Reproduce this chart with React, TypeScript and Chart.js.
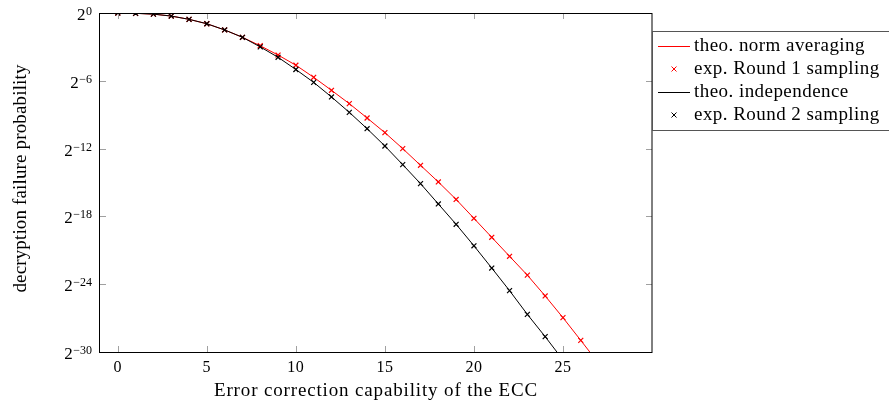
import React, { useEffect, useRef } from 'react';
import { Chart, registerables } from 'chart.js';

Chart.register(...registerables);

// ---- data (y values are log2 of the decryption failure probability) ----
const eccCapability = [0, 1, 2, 3, 4, 5, 6, 7, 8, 9, 10, 11, 12, 13, 14, 15, 16, 17, 18, 19, 20, 21, 22, 23, 24, 25, 26, 27];

const theoNormAveraging = [0, -0.03, -0.1, -0.27, -0.56, -0.95, -1.5, -2.15, -2.9, -3.72, -4.62, -5.69, -6.84, -8.02, -9.29, -10.59, -12.0, -13.48, -14.95, -16.5, -18.17, -19.85, -21.53, -23.2, -25.04, -26.96, -28.97, -31.0];
const expRound1 = [0, -0.03, -0.1, -0.27, -0.56, -0.95, -1.5, -2.15, -2.9, -3.72, -4.62, -5.69, -6.84, -8.02, -9.29, -10.59, -12.0, -13.48, -14.95, -16.5, -18.17, -19.85, -21.53, -23.2, -25.04, -26.96, -28.97];

const theoIndependence = [0, -0.03, -0.1, -0.27, -0.56, -0.95, -1.5, -2.15, -3.0, -3.92, -5.0, -6.14, -7.43, -8.79, -10.24, -11.77, -13.42, -15.1, -16.9, -18.7, -20.6, -22.57, -24.57, -26.67, -28.64, -30.7];
const expRound2 = [0, -0.03, -0.1, -0.27, -0.56, -0.95, -1.5, -2.15, -3.0, -3.92, -5.0, -6.14, -7.43, -8.79, -10.24, -11.77, -13.42, -15.1, -16.9, -18.7, -20.6, -22.57, -24.57, -26.67, -28.64];

const xTickValues = [0, 5, 10, 15, 20, 25];
const yTickExponents = [0, -6, -12, -18, -24, -30];

const seriesLabels = ['theo. norm averaging', 'exp. Round 1 sampling', 'theo. independence', 'exp. Round 2 sampling'];
const xTitle = 'Error correction capability of the ECC';
const yTitle = 'decryption failure probability';

const SERIF = '"Liberation Serif", "DejaVu Serif", serif';

const toPoints = (ys: number[]) => ys.map((y, i) => ({ x: eccCapability[i], y }));

const expLabel = (e: number) => (e < 0 ? '\u2212' + String(-e) : String(e));

const pgfPlugin = {
  id: 'pgfDecor',
  afterDatasetsDraw(chart: any) {
    const { ctx, chartArea: a, scales } = chart;
    const xs = scales.x;
    const ys = scales.y;
    const L = Math.round(a.left);
    const R = Math.round(a.right);
    const T = Math.round(a.top);
    const B = Math.round(a.bottom);
    ctx.save();

    // inner ticks (gray)
    ctx.strokeStyle = '#a0a0a0';
    ctx.lineWidth = 1;
    ctx.beginPath();
    xTickValues.forEach((v) => {
      const px = Math.round(xs.getPixelForValue(v)) + 0.5;
      ctx.moveTo(px, B);
      ctx.lineTo(px, B - 6);
      ctx.moveTo(px, T);
      ctx.lineTo(px, T + 6);
    });
    yTickExponents.forEach((v) => {
      const py = Math.round(ys.getPixelForValue(v)) + 0.5;
      ctx.moveTo(L, py);
      ctx.lineTo(L + 6, py);
      ctx.moveTo(R, py);
      ctx.lineTo(R - 6, py);
    });
    ctx.stroke();

    // frame
    ctx.strokeStyle = '#000';
    ctx.lineWidth = 1;
    ctx.strokeRect(L - 0.5, T + 0.5, R - L + 0.5, B - T);

    ctx.fillStyle = '#000';
    // x tick labels
    ctx.font = `16px ${SERIF}`;
    ctx.textAlign = 'center';
    ctx.textBaseline = 'alphabetic';
    (ctx as any).letterSpacing = '0.5px';
    xTickValues.forEach((v) => {
      ctx.fillText(String(v), xs.getPixelForValue(v), B + 20);
    });
    (ctx as any).letterSpacing = '0px';

    // y tick labels 2^e
    yTickExponents.forEach((e) => {
      const py = ys.getPixelForValue(e);
      const right = L - 8;
      ctx.textAlign = 'right';
      ctx.font = `12px ${SERIF}`;
      const es = expLabel(e);
      const ew = ctx.measureText(es).width;
      ctx.fillText(es, right, py + 2);
      ctx.font = `17px ${SERIF}`;
      ctx.fillText('2', right - ew - 0.5, py + 7);
    });

    // axis titles
    ctx.font = `19px ${SERIF}`;
    ctx.textAlign = 'center';
    (ctx as any).letterSpacing = '0.85px';
    ctx.fillText(xTitle, (a.left + a.right) / 2, B + 44);
    (ctx as any).letterSpacing = '0.15px';
    ctx.save();
    ctx.translate(26, (a.top + a.bottom) / 2 - 4);
    ctx.rotate(-Math.PI / 2);
    ctx.fillText(yTitle, 0, 0);
    ctx.restore();

    // legend box
    const boxTop = T + 18;
    ctx.strokeStyle = '#555';
    ctx.lineWidth = 1;
    ctx.strokeRect(R + 0.5, boxTop + 0.5, 400, 99);
    const colors = ['#ff0000', '#ff0000', '#000000', '#000000'];
    const isLine = [true, false, true, false];
    seriesLabels.forEach((lab, i) => {
      const cy = boxTop + 15 + i * 23;
      ctx.strokeStyle = colors[i];
      ctx.lineWidth = 1;
      ctx.beginPath();
      if (isLine[i]) {
        ctx.moveTo(R + 6, cy + 0.5);
        ctx.lineTo(R + 38, cy + 0.5);
      } else {
        const cx = R + 22;
        const s = 2.5;
        ctx.moveTo(cx - s, cy - s);
        ctx.lineTo(cx + s, cy + s);
        ctx.moveTo(cx - s, cy + s);
        ctx.lineTo(cx + s, cy - s);
      }
      ctx.stroke();
      ctx.fillStyle = '#000';
      ctx.font = `19px ${SERIF}`;
      ctx.textAlign = 'left';
      (ctx as any).letterSpacing = '0.45px';
      ctx.fillText(lab, R + 42, cy + 5);
      (ctx as any).letterSpacing = '0px';
    });

    ctx.restore();
  },
};

export default function App() {
  const ref = useRef<HTMLCanvasElement | null>(null);

  useEffect(() => {
    document.body.style.margin = '0';
    const canvas = ref.current;
    if (!canvas) return;
    const chart = new Chart(canvas, {
      type: 'scatter',
      data: {
        datasets: [
          {
            label: seriesLabels[0],
            data: toPoints(theoNormAveraging),
            showLine: true,
            borderColor: '#ff0000',
            backgroundColor: '#ff0000',
            borderWidth: 1,
            pointRadius: 0,
            order: 4,
          },
          {
            label: seriesLabels[1],
            data: toPoints(expRound1),
            showLine: false,
            pointStyle: 'crossRot',
            pointRadius: 3.5,
            pointBorderWidth: 1.2,
            pointBorderColor: '#ff0000',
            borderColor: '#ff0000',
            backgroundColor: '#ff0000',
            order: 3,
          },
          {
            label: seriesLabels[2],
            data: toPoints(theoIndependence),
            showLine: true,
            borderColor: '#000000',
            backgroundColor: '#000000',
            borderWidth: 1,
            pointRadius: 0,
            order: 2,
          },
          {
            label: seriesLabels[3],
            data: toPoints(expRound2),
            showLine: false,
            pointStyle: 'crossRot',
            pointRadius: 3.5,
            pointBorderWidth: 1.2,
            pointBorderColor: '#000000',
            borderColor: '#000000',
            backgroundColor: '#000000',
            order: 1,
          },
        ],
      },
      options: {
        responsive: false,
        animation: false,
        layout: { padding: { left: 100, top: 13, right: 237, bottom: 57 } },
        plugins: { legend: { display: false }, tooltip: { enabled: false } },
        scales: {
          x: { type: 'linear', min: -1, max: 30, display: false },
          y: { type: 'linear', min: -30, max: 0, display: false },
        },
      },
      plugins: [pgfPlugin],
    });
    return () => chart.destroy();
  }, []);

  return <canvas ref={ref} width={889} height={409} style={{ display: 'block' }} />;
}
